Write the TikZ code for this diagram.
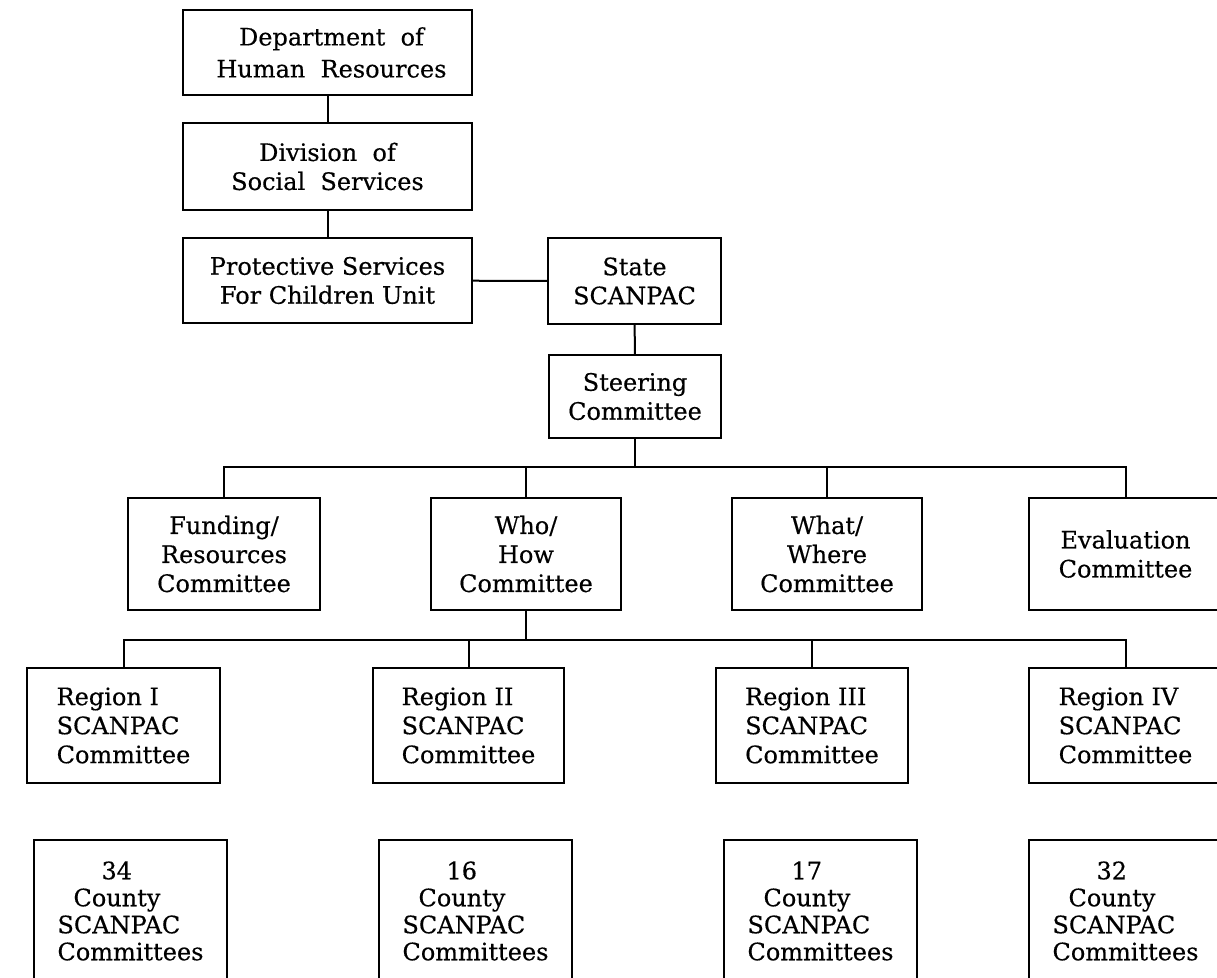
\documentclass[tikz,border=0pt]{standalone}
\usepackage{fontspec}
\setmainfont{DejaVu Serif}[FakeBold=0.4]
\tikzset{
  box/.style={draw, line width=2pt, inner sep=0pt, align=center,
    font=\fontsize{24}{29}\selectfont},
  conn/.style={line width=2pt},
}
\newcommand\bx[7][]{\node[box,#1, minimum width={#5-#3}, minimum height={#6-#4}] (#2) at ({(#3+#5)/2},{(#4+#6)/2}) {#7};}
\begin{document}
\begin{tikzpicture}[x=1pt,y=-1pt]
\useasboundingbox (0,0) rectangle (1217,977);
% top chain
\bx[font=\fontsize{24}{32}\selectfont]{dhr}{183}{10}{472}{95}{\hspace*{8pt}Department\ \ of\\ \hspace*{8pt}Human\ \ Resources}
\bx{dss}{183}{123}{472}{210}{Division\ \ of\\ Social\ \ Services}
\bx{pscu}{183}{238}{472}{323}{Protective Services\\ For Children Unit}
\bx{state}{548}{238}{721}{324}{State\\ SCANPAC}
\bx{steer}{549}{355}{721}{438}{Steering\\ Committee}
% committees
\bx{fund}{128}{498}{320}{610}{Funding/\\ Resources\\ Committee}
\bx{who}{431}{498}{621}{610}{Who/\\ How\\ Committee}
\bx{what}{732}{498}{922}{610}{What/\\ Where\\ Committee}
\bx{eval}{1029}{498}{1222}{610}{Evaluation\\ Committee}
% regions
\bx[align=left]{r1}{27}{668}{220}{783}{Region I\\ SCANPAC\\ Committee}
\bx[align=left]{r2}{373}{668}{564}{783}{Region II\\ SCANPAC\\ Committee}
\bx[align=left]{r3}{716}{668}{908}{783}{Region III\\ SCANPAC\\ Committee}
\bx[align=left]{r4}{1029}{668}{1222}{783}{Region IV\\ SCANPAC\\ Committee}
% counties
\bx[align=left,font=\fontsize{24}{27}\selectfont]{c1}{34}{840}{227}{982}{\hspace*{44pt}34\\ \hspace*{16pt}County\\ SCANPAC\\ Committees}
\bx[align=left,font=\fontsize{24}{27}\selectfont]{c2}{379}{840}{572}{982}{\hspace*{44pt}16\\ \hspace*{16pt}County\\ SCANPAC\\ Committees}
\bx[align=left,font=\fontsize{24}{27}\selectfont]{c3}{724}{840}{917}{982}{\hspace*{44pt}17\\ \hspace*{16pt}County\\ SCANPAC\\ Committees}
\bx[align=left,font=\fontsize{24}{27}\selectfont]{c4}{1029}{840}{1222}{982}{\hspace*{44pt}32\\ \hspace*{16pt}County\\ SCANPAC\\ Committees}
% connectors
\draw[conn] (dhr) -- (dss);
\draw[conn] (dss) -- (pscu);
\draw[conn] (pscu) -- (state);
\draw[conn] (state) -- (steer);
\coordinate (b1) at (0,467);
\coordinate (b2) at (0,640);
\draw[conn] (steer.south) -- (steer.south |- b1);
\draw[conn] (fund.north) |- (b1 -| eval.north) -- (eval.north);
\draw[conn] (who.north) -- (who.north |- b1);
\draw[conn] (what.north) -- (what.north |- b1);
\draw[conn] (who.south) -- (who.south |- b2);
\draw[conn] (r1.north) |- (b2 -| r4.north) -- (r4.north);
\draw[conn] (r2.north) -- (r2.north |- b2);
\draw[conn] (r3.north) -- (r3.north |- b2);
\end{tikzpicture}
\end{document}
